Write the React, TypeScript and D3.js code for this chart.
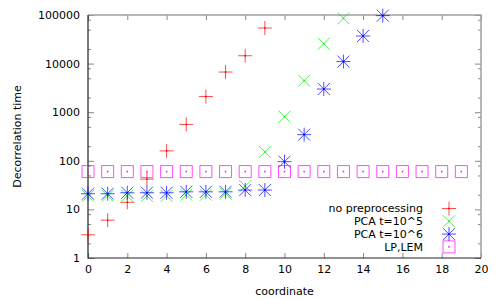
import * as d3 from "d3";
import { useEffect, useRef } from "react";

// values (log scale)
const noPreprocessing = [3, 6, 14, 42, 160, 560, 2100, 6700, 14500, 54000];
const pca1e5 = [19, 19, 19, 19, 19, 20, 20, 21, 30, 152, 810, 4450, 25700, 85500];
const pca1e6 = [21, 21, 22, 22, 22, 23, 23, 23, 25, 25, 96, 345, 3000, 11000, 37000, 97000];
const lpLem = [60, 60, 60, 60, 60, 60, 60, 60, 60, 60, 60, 60, 60, 60, 60, 60, 60, 60, 60, 60];

const xTicks = [0, 2, 4, 6, 8, 10, 12, 14, 16, 18, 20];
const yTicks = [1, 10, 100, 1000, 10000, 100000];
const yMinorTicks = [2, 5, 8, 20, 50, 80, 200, 500, 800, 2000, 5000, 8000, 20000, 50000, 80000];

const seriesNames = ["no preprocessing", "PCA t=10^5", "PCA t=10^6", "LP,LEM"];

const WIDTH = 498;
const HEIGHT = 299;
const FONT = "DejaVu Sans, sans-serif";

const margin = { top: 15, right: 17, bottom: 41, left: 88 };

const plusPath = (x, y, s) => `M${x - s},${y}H${x + s}M${x},${y - s}V${y + s}`;
const crossPath = (x, y, s) => `M${x - s},${y - s}L${x + s},${y + s}M${x - s},${y + s}L${x + s},${y - s}`;
const squarePath = (x, y, s) => `M${x - s},${y - s}H${x + s}V${y + s}H${x - s}Z`;

const markers = [
    { color: "#ff0000", path: (x, y) => plusPath(x, y, 7) },
    { color: "#00ee00", path: (x, y) => crossPath(x, y, 6) },
    { color: "#0000ff", path: (x, y) => plusPath(x, y, 7) + crossPath(x, y, 6) },
    { color: "#ff00ff", path: (x, y) => squarePath(x, y, 6) }
];

const ChartDraw = () => {
    const chartRef = useRef(null);

    useEffect(() => {
        const svg = d3.select(chartRef.current);
        svg.selectAll("*").remove();

        const boundsWidth = WIDTH - margin.left - margin.right;
        const boundsHeight = HEIGHT - margin.top - margin.bottom;
        const left = margin.left;
        const right = margin.left + boundsWidth;
        const top = margin.top;
        const bottom = margin.top + boundsHeight;

        const scaleX = d3.scaleLinear().domain([0, 20]).range([left, right]);
        const scaleY = d3.scaleLog().domain([1, 100000]).range([bottom, top]);

        const styleAxis = (g, labels) => {
            g.select(".domain").remove();
            g.selectAll("line").attr("stroke", "#888").attr("stroke-width", 1);
            g.selectAll("text")
                .attr("fill", labels ? "#000" : "none")
                .style("font-family", FONT)
                .style("font-size", "11px");
        };

        // left + right axes
        svg.append("g")
            .attr("transform", `translate(${left},0)`)
            .call(d3.axisLeft(scaleY).tickValues(yTicks).tickFormat(d3.format("d")).tickSize(-6).tickPadding(8))
            .call(g => styleAxis(g, true));
        svg.append("g")
            .attr("transform", `translate(${left},0)`)
            .call(d3.axisLeft(scaleY).tickValues(yMinorTicks).tickFormat(() => "").tickSize(-3))
            .call(g => styleAxis(g, false));
        svg.append("g")
            .attr("transform", `translate(${right},0)`)
            .call(d3.axisRight(scaleY).tickValues(yTicks).tickFormat(() => "").tickSize(-6))
            .call(g => styleAxis(g, false));
        svg.append("g")
            .attr("transform", `translate(${right},0)`)
            .call(d3.axisRight(scaleY).tickValues(yMinorTicks).tickFormat(() => "").tickSize(-3))
            .call(g => styleAxis(g, false));

        // bottom + top axes
        svg.append("g")
            .attr("transform", `translate(0,${bottom})`)
            .call(d3.axisBottom(scaleX).tickValues(xTicks).tickSize(-5).tickPadding(7))
            .call(g => styleAxis(g, true));
        svg.append("g")
            .attr("transform", `translate(0,${top})`)
            .call(d3.axisTop(scaleX).tickValues(xTicks).tickFormat(() => "").tickSize(-5))
            .call(g => styleAxis(g, false));

        // border: grey top/right, dark left/bottom
        svg.append("path")
            .attr("d", `M${left},${top}H${right}V${bottom}`)
            .attr("fill", "none")
            .attr("stroke", "#a0a0a0")
            .attr("stroke-width", 1.5);
        svg.append("path")
            .attr("d", `M${left},${top}V${bottom}H${right}`)
            .attr("fill", "none")
            .attr("stroke", "#222")
            .attr("stroke-width", 1.2);

        // axis titles
        svg.append("text")
            .attr("x", (left + right) / 2)
            .attr("y", 295)
            .attr("text-anchor", "middle")
            .style("font-family", FONT)
            .style("font-size", "11px")
            .text("coordinate");
        svg.append("text")
            .attr("transform", `translate(21,${(top + bottom) / 2}) rotate(-90)`)
            .attr("text-anchor", "middle")
            .style("font-family", FONT)
            .style("font-size", "11px")
            .text("Decorrelation time");

        const drawPoint = (g, marker, x, y) => {
            g.append("path")
                .attr("d", marker.path(x, y))
                .attr("fill", "none")
                .attr("stroke", marker.color)
                .attr("stroke-opacity", 0.7)
                .attr("stroke-width", 1);
            g.append("rect")
                .attr("x", x - 0.75)
                .attr("y", y - 0.75)
                .attr("width", 1.5)
                .attr("height", 1.5)
                .attr("fill", marker.color);
        };

        // points
        [noPreprocessing, pca1e5, pca1e6, lpLem].forEach((values, i) => {
            const g = svg.append("g");
            values.forEach((v, x) => drawPoint(g, markers[i], scaleX(x), scaleY(v)));
        });

        // legend
        const legend = svg.append("g");
        seriesNames.forEach((name, i) => {
            const y = 208.5 + i * 12.8;
            legend.append("text")
                .attr("x", 423)
                .attr("y", y)
                .attr("dy", "0.35em")
                .attr("text-anchor", "end")
                .style("font-family", FONT)
                .style("font-size", "11px")
                .text(name);
            drawPoint(legend, markers[i], 449, y);
        });
    }, []);

    return (
        <svg ref={chartRef} width={WIDTH} height={HEIGHT}
            style={{ position: "absolute", left: 0, top: 0, background: "#fff" }}> </svg>
    );
};

export default function App() {
    return <ChartDraw />;
}
